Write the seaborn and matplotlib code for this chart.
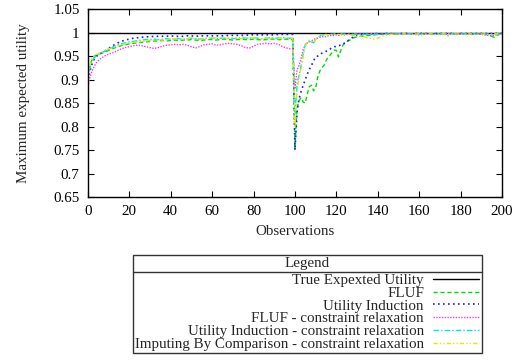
import matplotlib
matplotlib.use("Agg")
import matplotlib.pyplot as plt
import seaborn as sns
from matplotlib.ticker import FuncFormatter
from matplotlib.lines import Line2D

# ---------------- data ----------------
OBS = [0, 1, 2, 3, 4, 5, 6] + list(range(8, 99, 2)) + list(range(99, 131)) + list(range(132, 201, 2))

TRUE_X = [0, 200]
TRUE_Y = [1.0, 1.0]

FLUF = [
    0.905, 0.930, 0.943, 0.949, 0.952, 0.953, 0.955,
    0.958, 0.962, 0.966, 0.969, 0.972, 0.974, 0.976, 0.977, 0.978, 0.979,
    0.980, 0.981, 0.982, 0.982, 0.983, 0.982, 0.983, 0.984, 0.983, 0.984,
    0.984, 0.985, 0.984, 0.983, 0.984, 0.985, 0.985, 0.984, 0.985, 0.986,
    0.985, 0.984, 0.985, 0.986, 0.985, 0.985, 0.986, 0.985, 0.984, 0.985,
    0.986, 0.986, 0.985, 0.985, 0.986, 0.985,
    0.985, 0.752, 0.840, 0.855, 0.862, 0.852, 0.850, 0.870, 0.885, 0.888,
    0.876, 0.882, 0.905, 0.918, 0.925, 0.930, 0.940, 0.948, 0.952, 0.958,
    0.963, 0.962, 0.948, 0.960, 0.972, 0.978, 0.980, 0.983, 0.985, 0.988,
    0.990, 0.991,
    0.992, 0.993, 0.994, 0.995, 0.996, 0.996, 0.997, 0.996, 0.997, 0.997,
    0.997, 0.996, 0.997, 0.997, 0.998, 0.997, 0.997, 0.996, 0.997, 0.997,
    0.997, 0.998, 0.997, 0.996, 0.997, 0.997, 0.997, 0.996, 0.997, 0.997,
    0.996, 0.994, 0.990, 0.995, 0.997,
]

UTIL_IND = [
    0.900, 0.918, 0.933, 0.943, 0.949, 0.952, 0.955,
    0.960, 0.966, 0.972, 0.977, 0.981, 0.984, 0.986, 0.988, 0.989, 0.990,
    0.991, 0.991, 0.992, 0.992, 0.992, 0.992, 0.993, 0.992, 0.992, 0.992,
    0.993, 0.993, 0.992, 0.993, 0.993, 0.993, 0.993, 0.993, 0.993, 0.993,
    0.994, 0.994, 0.994, 0.994, 0.994, 0.995, 0.995, 0.995, 0.995, 0.995,
    0.995, 0.995, 0.996, 0.996, 0.996, 0.996,
    0.996, 0.750, 0.830, 0.860, 0.875, 0.888, 0.900, 0.912, 0.922, 0.930,
    0.940, 0.948, 0.950, 0.953, 0.956, 0.958, 0.960, 0.962, 0.965, 0.968,
    0.970, 0.970, 0.972, 0.973, 0.974, 0.978, 0.981, 0.984, 0.987, 0.990,
    0.993, 0.995,
    0.996, 0.997, 0.997, 0.997, 0.998, 0.997, 0.998, 0.998, 0.997, 0.998,
    0.998, 0.998, 0.997, 0.998, 0.998, 0.998, 0.998, 0.997, 0.998, 0.998,
    0.998, 0.998, 0.998, 0.997, 0.998, 0.998, 0.998, 0.998, 0.998, 0.998,
    0.998, 0.998, 0.998, 0.998, 0.998,
]

FLUF_CR = [
    0.885, 0.905, 0.918, 0.928, 0.935, 0.940, 0.944,
    0.950, 0.954, 0.957, 0.961, 0.965, 0.968, 0.970, 0.972, 0.973, 0.972,
    0.970, 0.968, 0.966, 0.968, 0.971, 0.973, 0.974, 0.975, 0.974, 0.975,
    0.973, 0.970, 0.967, 0.970, 0.974, 0.975, 0.976, 0.973, 0.974, 0.976,
    0.977, 0.976, 0.975, 0.972, 0.968, 0.967, 0.971, 0.975, 0.976, 0.977,
    0.976, 0.977, 0.975, 0.970, 0.967, 0.965,
    0.965, 0.880, 0.920, 0.930, 0.945, 0.965, 0.972, 0.978, 0.980, 0.982,
    0.985, 0.987, 0.988, 0.990, 0.991, 0.992, 0.991, 0.993, 0.994, 0.993,
    0.994, 0.995, 0.994, 0.995, 0.996, 0.995, 0.996, 0.996, 0.997, 0.996,
    0.997, 0.997,
    0.997, 0.996, 0.997, 0.998, 0.997, 0.996, 0.997, 0.997, 0.998, 0.997,
    0.996, 0.997, 0.997, 0.996, 0.995, 0.996, 0.997, 0.997, 0.996, 0.997,
    0.997, 0.998, 0.997, 0.996, 0.997, 0.997, 0.996, 0.997, 0.997, 0.996,
    0.995, 0.993, 0.994, 0.996, 0.997,
]

UTIL_IND_CR = [
    0.895, 0.925, 0.940, 0.946, 0.950, 0.953, 0.956,
    0.960, 0.965, 0.969, 0.973, 0.976, 0.978, 0.980, 0.981, 0.983, 0.984,
    0.985, 0.985, 0.986, 0.985, 0.986, 0.987, 0.986, 0.987, 0.987, 0.986,
    0.987, 0.988, 0.987, 0.986, 0.987, 0.988, 0.988, 0.987, 0.988, 0.988,
    0.988, 0.987, 0.988, 0.989, 0.988, 0.988, 0.989, 0.988, 0.987, 0.988,
    0.989, 0.988, 0.988, 0.989, 0.988, 0.988,
    0.988, 0.820, 0.890, 0.910, 0.930, 0.955, 0.975, 0.978, 0.982, 0.980,
    0.978, 0.985, 0.990, 0.992, 0.995, 0.995, 0.996, 0.995, 0.996, 0.996,
    0.997, 0.996, 0.996, 0.997, 0.997, 0.996, 0.997, 0.997, 0.997, 0.996,
    0.997, 0.997,
    0.997, 0.996, 0.997, 0.997, 0.996, 0.997, 0.997, 0.996, 0.997, 0.997,
    0.997, 0.996, 0.997, 0.997, 0.997, 0.996, 0.997, 0.997, 0.996, 0.997,
    0.997, 0.993, 0.997, 0.997, 0.996, 0.997, 0.997, 0.997, 0.996, 0.997,
    0.997, 0.996, 0.997, 0.997, 0.997,
]

IBC_CR = [
    0.902, 0.932, 0.945, 0.950, 0.953, 0.955, 0.957,
    0.961, 0.965, 0.968, 0.971, 0.974, 0.976, 0.978, 0.979, 0.980, 0.981,
    0.982, 0.983, 0.984, 0.985, 0.984, 0.985, 0.986, 0.987, 0.986, 0.986,
    0.987, 0.988, 0.987, 0.986, 0.987, 0.988, 0.988, 0.989, 0.988, 0.987,
    0.988, 0.989, 0.988, 0.987, 0.988, 0.989, 0.989, 0.988, 0.987, 0.988,
    0.989, 0.988, 0.987, 0.988, 0.989, 0.988,
    0.988, 0.800, 0.875, 0.905, 0.925, 0.950, 0.972, 0.980, 0.984, 0.982,
    0.979, 0.985, 0.990, 0.993, 0.994, 0.995, 0.996, 0.995, 0.996, 0.996,
    0.996, 0.997, 0.996, 0.996, 0.997, 0.996, 0.996, 0.995, 0.994, 0.994,
    0.993, 0.993,
    0.992, 0.990, 0.988, 0.986, 0.988, 0.992, 0.995, 0.996, 0.997, 0.996,
    0.997, 0.997, 0.996, 0.997, 0.997, 0.996, 0.997, 0.997, 0.996, 0.997,
    0.997, 0.997, 0.996, 0.997, 0.997, 0.996, 0.997, 0.997, 0.996, 0.997,
    0.997, 0.996, 0.997, 0.997, 0.996,
]

LABELS = [
    "True Expexted Utility",
    "FLUF",
    "Utility Induction",
    "FLUF - constraint relaxation",
    "Utility Induction - constraint relaxation",
    "Imputing By Comparison - constraint relaxation",
]
X_TICKS = list(range(0, 201, 20))
Y_TICKS = [0.65, 0.7, 0.75, 0.8, 0.85, 0.9, 0.95, 1.0, 1.05]

# ---------------- style ----------------
sns.set_theme(style="ticks")
plt.rcParams['font.family'] = ['Liberation Serif', 'DejaVu Serif']
FS = 10.8
plt.rcParams['font.size'] = FS

fig = plt.figure(figsize=(5.17, 3.61), dpi=100)
ax = fig.add_axes([0.170, 0.454, 0.801, 0.521])

styles = [
    dict(color="black", linestyle="-", lw=1.0),
    dict(color="#00dd00", linestyle=(0, (3, 2)), lw=1.0),
    dict(color="#1a1aff", linestyle=(0, (1, 2)), lw=1.2),
    dict(color="#ff33ff", linestyle=(0, (1, 1)), lw=1.0),
    dict(color="#00e6e6", linestyle=(0, (4, 1.5, 1, 1.5)), lw=1.0),
    dict(color="#e6e600", linestyle=(0, (3, 1.5, 1, 1.5, 1, 1.5)), lw=1.0),
]

series = [(TRUE_X, TRUE_Y), (OBS, FLUF), (OBS, UTIL_IND), (OBS, FLUF_CR),
          (OBS, UTIL_IND_CR), (OBS, IBC_CR)]

for (xs, ys), st, lab in zip(series, styles, LABELS):
    sns.lineplot(x=xs, y=ys, ax=ax, label=lab, **st)

if ax.get_legend() is not None:
    ax.get_legend().remove()

ax.set_xlim(0, 200)
ax.set_ylim(0.65, 1.05)
ax.set_xticks(X_TICKS)
ax.set_yticks(Y_TICKS)
fmt = FuncFormatter(lambda v, p: f"{v:g}")
ax.xaxis.set_major_formatter(fmt)
ax.yaxis.set_major_formatter(fmt)
ax.tick_params(direction="in", top=True, right=True, length=4, width=0.8,
               labelsize=FS, colors="black", pad=6)
for sp in ax.spines.values():
    sp.set_visible(True)
    sp.set_linewidth(1.0)
    sp.set_color("black")

ax.set_xlabel("Observations", fontsize=FS)
ax.set_ylabel("Maximum expected utility", fontsize=FS)
ax.xaxis.set_label_coords(0.5, -0.150)
ax.yaxis.set_label_coords(-0.140, 0.5)

handles = [Line2D([0], [0], **st) for st in styles]
leg = fig.legend(handles, LABELS, loc="upper center",
                 bbox_to_anchor=(0.594, 0.294), bbox_transform=fig.transFigure,
                 title="Legend", markerfirst=False, frameon=True, fancybox=False,
                 edgecolor="#333333", framealpha=1, handlelength=3.1,
                 handletextpad=0.6, labelspacing=-0.05, borderpad=0.15,
                 borderaxespad=0, fontsize=FS, title_fontsize=FS)
leg.get_frame().set_linewidth(1.0)
TITLE_SEP = 2.5  # points between title and entries
leg._legend_box.sep = TITLE_SEP

fig.canvas.draw()
r = fig.canvas.get_renderer()
lb = leg.get_window_extent(r)
tb = leg.get_title().get_window_extent(r)
inv = fig.transFigure.inverted()
off = r.points_to_pixels(TITLE_SEP) / 2
x0, y0 = inv.transform((lb.x0, tb.y0 - off))
x1, _ = inv.transform((lb.x1, tb.y0 - off))
fig.add_artist(Line2D([x0, x1], [y0, y0], transform=fig.transFigure,
                      color="#333333", lw=1.0, zorder=20))

fig.savefig("out.png", dpi=100)
